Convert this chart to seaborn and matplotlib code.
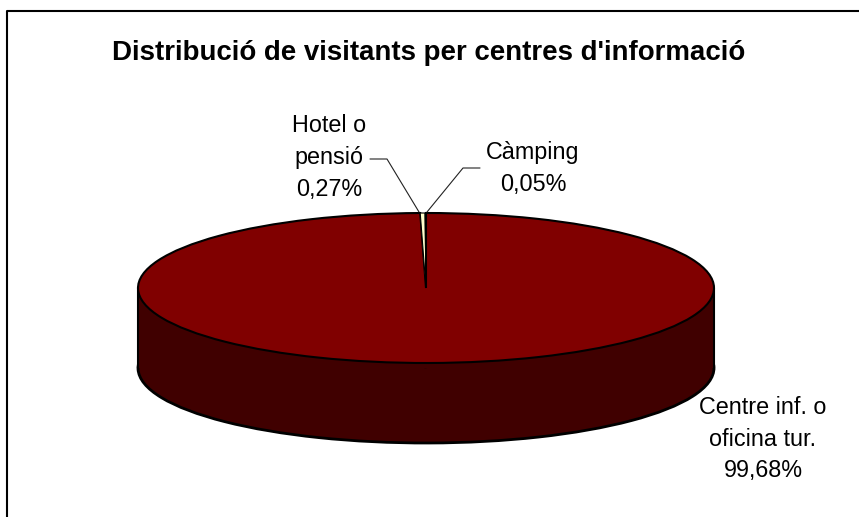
import matplotlib
matplotlib.use('Agg')
import matplotlib.pyplot as plt
import seaborn as sns
from matplotlib.patches import Rectangle

labels = ['Centre inf. o\noficina tur.\n99,68%', 'Hotel o\npensió\n0,27%', 'Càmping\n0,05%']
values = [99.68, 0.27, 0.05]
colors = ['#800000', '#FFFFCC', '#CCFFFF']
side_color = '#400000'
title = "Distribució de visitants per centres d'informació"

sns.set_theme(style='white')
plt.rcParams['font.family'] = ['Liberation Sans', 'DejaVu Sans']

W, H = 859, 517
fig = plt.figure(figsize=(W / 100, H / 100), dpi=100)
fig.patch.set_facecolor('white')

# axes box in pixels: the pie has rx 288, ry 75, the rim is 80 deep
cx, cy, rx, ry, depth = 426, 288, 288, 75, 80
ax = fig.add_axes([0, 0, 1, 1])
d = depth / ry

# rim first, the bottom pie is only there for its lower outline
ax.pie(values, colors=[side_color] * 3, startangle=90, counterclock=False,
       center=(0, -d), wedgeprops={'edgecolor': 'black', 'linewidth': 2})
ax.add_patch(Rectangle((-1, -d), 2, d, fc=side_color, ec='none', zorder=2))
ax.plot([-1, -1], [0, -d], color='black', lw=1.5, zorder=3)
ax.plot([1, 1], [0, -d], color='black', lw=1.5, zorder=3)

top, _ = ax.pie(values, colors=colors, startangle=90, counterclock=False,
                wedgeprops={'edgecolor': 'black', 'linewidth': 1.5})
for w in top:
    w.set_zorder(4)
top[1].set_linewidth(0.8)
top[2].set_linewidth(0.8)

ax.set_aspect('auto')
ax.set_xlim((0 - cx) / rx, (W - cx) / rx)
ax.set_ylim((cy - H) / ry, cy / ry)
ax.axis('off')

def to_data(px, py):
    return (px - cx) / rx, (cy - py) / ry

fs = 16.8
ax.text(*to_data(429, 53), title, fontsize=19.9, fontweight='bold', color='black',
        ha='center', va='center', zorder=6)
ax.text(*to_data(763, 439), labels[0], fontsize=fs, color='black', ha='center',
        va='center', linespacing=1.5, zorder=6)
ax.text(*to_data(329, 158), labels[1], fontsize=fs, color='black', ha='center',
        va='center', linespacing=1.5, zorder=6)
ax.text(*to_data(533, 169), labels[2], fontsize=fs, color='black', ha='center',
        va='center', linespacing=1.5, zorder=6)

# leader lines
xs, ys = zip(*[to_data(*p) for p in [(370, 159), (387, 159), (419, 212)]])
ax.plot(xs, ys, color='#222222', lw=0.8, zorder=6)
xs, ys = zip(*[to_data(*p) for p in [(480, 168), (463, 168), (427, 212)]])
ax.plot(xs, ys, color='#222222', lw=0.8, zorder=6)

# chart frame, cut off on the right and at the bottom
xs, ys = zip(*[to_data(*p) for p in [(7, 517), (7, 11), (859, 11)]])
ax.plot(xs, ys, color='black', lw=1.5, zorder=6)

fig.savefig('out.png', dpi=100)
